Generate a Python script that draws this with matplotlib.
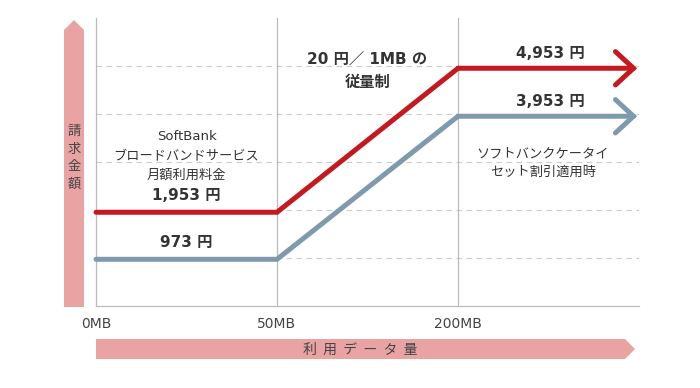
import matplotlib
matplotlib.use("Agg")
import matplotlib.pyplot as plt
from matplotlib.patches import Polygon

plt.rcParams['font.family'] = ['Noto Sans CJK JP', 'DejaVu Sans']
NUM_FONT = ['DejaVu Sans', 'Noto Sans CJK JP']  # 数字は幅広のフォントで

# データ
x_labels = ['0MB', '50MB', '200MB']
x_pos = [0, 1, 2, 2.99]
softbank = [1953, 1953, 4953, 4953]   # 通常料金
keitai = [973, 973, 3953, 3953]       # ケータイセット割引
grid_levels = [1000, 2000, 3000, 4000, 5000]

red = '#c41a1f'
blue = '#7f9aad'
pink = '#e9a3a3'
txt = '#333333'

fig = plt.figure(figsize=(7, 3.88), dpi=100)
W, H = 700, 388
ax = fig.add_axes([96 / W, (H - 306) / H, (639 - 96) / W, (306 - 18) / H])
ax.set_xlim(0, 3.0)
ax.set_ylim(0, 6000)

for g in grid_levels:
    ax.axhline(g, color='#cccccc', lw=0.8, ls=(0, (5, 4)), zorder=1)
for xv in [1, 2]:
    ax.axvline(xv, color='#bbbbbb', lw=0.9, zorder=1)

for s in ['top', 'right']:
    ax.spines[s].set_visible(False)
for s in ['left', 'bottom']:
    ax.spines[s].set_color('#bbbbbb')
    ax.spines[s].set_linewidth(0.9)

ax.set_yticks([])
ax.set_xticks(range(len(x_labels)))
ax.set_xticklabels(x_labels, fontsize=10, color='#444444', family='DejaVu Sans')
ax.tick_params(axis='x', length=0, pad=8)

# 折れ線 + 矢印
for ys, c in [(keitai, blue), (softbank, red)]:
    ax.plot(x_pos[:-1], ys[:-1], color=c, lw=3.6, solid_capstyle='round',
            solid_joinstyle='miter', zorder=3, clip_on=False)
    ax.annotate('', xy=(x_pos[-1], ys[-1]), xytext=(x_pos[-2], ys[-2]),
                arrowprops=dict(arrowstyle='->,head_length=0.65,head_width=0.6',
                                lw=3.6, color=c, mutation_scale=20,
                                shrinkA=0, shrinkB=0, joinstyle='miter',
                                capstyle='round'),
                zorder=3, annotation_clip=False)

# 注釈テキスト
ax.text(0.5, 3540, 'SoftBank', ha='center', va='center', fontsize=9.5, color=txt,
        family='DejaVu Sans')
ax.text(0.5, 3125, 'ブロードバンドサービス', ha='center', va='center', fontsize=9.5, color=txt)
ax.text(0.5, 2730, '月額利用料金', ha='center', va='center', fontsize=9.5, color=txt)
ax.text(0.5, 2310, '1,953 円', ha='center', va='center', fontsize=11, fontweight='bold',
        color=txt, family=NUM_FONT)
ax.text(0.5, 1330, '973 円', ha='center', va='center', fontsize=11, fontweight='bold',
        color=txt, family=NUM_FONT)
ax.text(1.5, 5146, '20 円／ 1MB の', ha='center', va='center', fontsize=11, fontweight='bold',
        color=txt, family=NUM_FONT)
ax.text(1.5, 4667, '従量制', ha='center', va='center', fontsize=11, fontweight='bold', color=txt)
ax.text(2.51, 5270, '4,953 円', ha='center', va='center', fontsize=11, fontweight='bold',
        color=txt, family=NUM_FONT)
ax.text(2.51, 4270, '3,953 円', ha='center', va='center', fontsize=11, fontweight='bold',
        color=txt, family=NUM_FONT)
ax.text(2.47, 3170, 'ソフトバンクケータイ', ha='center', va='center', fontsize=9.5, color=txt)
ax.text(2.47, 2790, 'セット割引適用時', ha='center', va='center', fontsize=9.5, color=txt)

# ピンクの軸矢印 (ピクセル座標 -> figure座標)
def fp(pts):
    return [(x / W, 1 - y / H) for x, y in pts]

fig.patches.append(Polygon(fp([(64, 307), (64, 30), (74, 20), (84, 30), (84, 307)]),
                           closed=True, fc=pink, ec='none', transform=fig.transFigure))
fig.patches.append(Polygon(fp([(96, 339), (625, 339), (635, 349), (625, 359), (96, 359)]),
                           closed=True, fc=pink, ec='none', transform=fig.transFigure))
fig.text(74 / W, 1 - 158 / H, '請\n求\n金\n額', ha='center', va='center',
         fontsize=9.5, color='#444444', linespacing=1.45)
fig.text(360 / W, 1 - 350 / H, '利  用  デ  ー  タ  量', ha='center', va='center',
         fontsize=10, color='#444444')

fig.savefig('out.png', dpi=100)
